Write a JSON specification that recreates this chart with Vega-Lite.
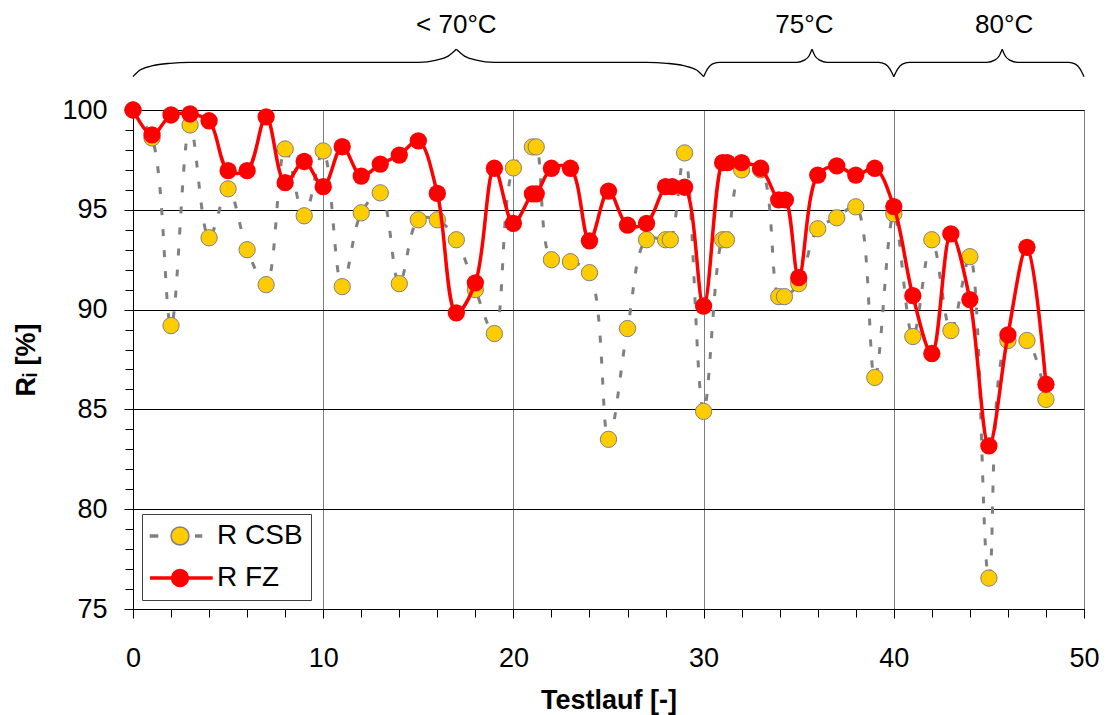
{
  "$schema": "https://vega.github.io/schema/vega-lite/v6.json",
  "width": 951,
  "height": 499,
  "autosize": "none",
  "padding": {"left": 133, "top": 110, "right": 24, "bottom": 106},
  "background": "white",
  "config": {
    "font": "Liberation Sans",
    "view": {"stroke": "black", "strokeWidth": 1},
    "axis": {"domainColor": "black", "tickColor": "black", "labelColor": "black", "titleColor": "black"}
  },
  "datasets": {
    "csb": [
      {"x": 0, "v": 100}, {"x": 1, "v": 98.6}, {"x": 2, "v": 89.2}, {"x": 3, "v": 99.25}, {"x": 4, "v": 93.6},
      {"x": 5, "v": 96.05}, {"x": 6, "v": 93.0}, {"x": 7, "v": 91.25}, {"x": 8, "v": 98.05}, {"x": 9, "v": 94.7},
      {"x": 10, "v": 97.95}, {"x": 11, "v": 91.15}, {"x": 12, "v": 94.85}, {"x": 13, "v": 95.85}, {"x": 14, "v": 91.3},
      {"x": 15, "v": 94.5}, {"x": 16, "v": 94.5}, {"x": 17, "v": 93.5}, {"x": 18, "v": 91.0}, {"x": 19, "v": 88.8},
      {"x": 20, "v": 97.1}, {"x": 21, "v": 98.15}, {"x": 21.2, "v": 98.15}, {"x": 22, "v": 92.5}, {"x": 23, "v": 92.4},
      {"x": 24, "v": 91.85}, {"x": 25, "v": 83.5}, {"x": 26, "v": 89.05}, {"x": 27, "v": 93.5}, {"x": 28, "v": 93.5},
      {"x": 28.25, "v": 93.5}, {"x": 29, "v": 97.85}, {"x": 30, "v": 84.9}, {"x": 31, "v": 93.5}, {"x": 31.2, "v": 93.5},
      {"x": 32, "v": 97.0}, {"x": 33, "v": 97.0}, {"x": 33.95, "v": 90.65}, {"x": 34.25, "v": 90.65}, {"x": 35, "v": 91.3},
      {"x": 36, "v": 94.05}, {"x": 37, "v": 94.6}, {"x": 38, "v": 95.15}, {"x": 39, "v": 86.6}, {"x": 40, "v": 94.8},
      {"x": 41, "v": 88.65}, {"x": 42, "v": 93.5}, {"x": 43, "v": 88.95}, {"x": 44, "v": 92.65}, {"x": 45, "v": 76.55},
      {"x": 46, "v": 88.45}, {"x": 47, "v": 88.45}, {"x": 48, "v": 85.5}
    ],
    "fz": [
      {"x": 0, "v": 100}, {"x": 1, "v": 98.75}, {"x": 2, "v": 99.75}, {"x": 3, "v": 99.8}, {"x": 4, "v": 99.46},
      {"x": 5, "v": 96.96}, {"x": 6, "v": 96.96}, {"x": 7, "v": 99.66}, {"x": 8, "v": 96.36}, {"x": 9, "v": 97.42},
      {"x": 10, "v": 96.16}, {"x": 11, "v": 98.16}, {"x": 12, "v": 96.69}, {"x": 13, "v": 97.29}, {"x": 14, "v": 97.74},
      {"x": 15, "v": 98.45}, {"x": 16, "v": 95.82}, {"x": 17, "v": 89.84}, {"x": 18, "v": 91.34}, {"x": 19, "v": 97.08},
      {"x": 20, "v": 94.32}, {"x": 21, "v": 95.8}, {"x": 21.2, "v": 95.8}, {"x": 22, "v": 97.08}, {"x": 23, "v": 97.08},
      {"x": 24, "v": 93.44}, {"x": 25, "v": 95.94}, {"x": 26, "v": 94.23}, {"x": 27, "v": 94.32}, {"x": 28, "v": 96.16},
      {"x": 28.35, "v": 96.16}, {"x": 29, "v": 96.13}, {"x": 30, "v": 90.18}, {"x": 31, "v": 97.36}, {"x": 31.25, "v": 97.36},
      {"x": 32, "v": 97.36}, {"x": 33, "v": 97.08}, {"x": 33.95, "v": 95.5}, {"x": 34.3, "v": 95.5}, {"x": 35, "v": 91.6},
      {"x": 36, "v": 96.74}, {"x": 37, "v": 97.2}, {"x": 38, "v": 96.74}, {"x": 39, "v": 97.08}, {"x": 40, "v": 95.16},
      {"x": 41, "v": 90.7}, {"x": 42, "v": 87.8}, {"x": 43, "v": 93.79}, {"x": 44, "v": 90.5}, {"x": 45, "v": 83.17},
      {"x": 46, "v": 88.73}, {"x": 47, "v": 93.12}, {"x": 48, "v": 86.26}
    ],
    "brace": [
      {"seg": "a1", "x": 0, "y": 101.67}, {"seg": "a1", "x": 0.37, "y": 102.0}, {"seg": "a1", "x": 1.05, "y": 102.22},
      {"seg": "a1", "x": 1.94, "y": 102.34}, {"seg": "a1", "x": 3, "y": 102.39}, {"seg": "a1", "x": 15, "y": 102.39},
      {"seg": "a1", "x": 15.96, "y": 102.5}, {"seg": "a1", "x": 16.57, "y": 102.7}, {"seg": "a1", "x": 17, "y": 103.04},
      {"seg": "a2", "x": 17, "y": 103.04}, {"seg": "a2", "x": 17.43, "y": 102.7}, {"seg": "a2", "x": 18.04, "y": 102.5},
      {"seg": "a2", "x": 19, "y": 102.39}, {"seg": "a2", "x": 27, "y": 102.39}, {"seg": "a2", "x": 28.06, "y": 102.34},
      {"seg": "a2", "x": 28.95, "y": 102.22}, {"seg": "a2", "x": 29.63, "y": 102.0}, {"seg": "a2", "x": 30, "y": 101.67},
      {"seg": "b1", "x": 30, "y": 101.67}, {"seg": "b1", "x": 30.2, "y": 102.05}, {"seg": "b1", "x": 30.45, "y": 102.3},
      {"seg": "b1", "x": 30.8, "y": 102.39}, {"seg": "b1", "x": 34.9, "y": 102.39}, {"seg": "b1", "x": 35.3, "y": 102.5},
      {"seg": "b1", "x": 35.55, "y": 102.72}, {"seg": "b1", "x": 35.7, "y": 103.04},
      {"seg": "b2", "x": 35.7, "y": 103.04}, {"seg": "b2", "x": 35.85, "y": 102.72}, {"seg": "b2", "x": 36.1, "y": 102.5},
      {"seg": "b2", "x": 36.5, "y": 102.39}, {"seg": "b2", "x": 39.2, "y": 102.39}, {"seg": "b2", "x": 39.55, "y": 102.3},
      {"seg": "b2", "x": 39.8, "y": 102.05}, {"seg": "b2", "x": 40, "y": 101.67},
      {"seg": "c1", "x": 40, "y": 101.67}, {"seg": "c1", "x": 40.2, "y": 102.05}, {"seg": "c1", "x": 40.45, "y": 102.3},
      {"seg": "c1", "x": 40.8, "y": 102.39}, {"seg": "c1", "x": 44.9, "y": 102.39}, {"seg": "c1", "x": 45.3, "y": 102.5},
      {"seg": "c1", "x": 45.55, "y": 102.72}, {"seg": "c1", "x": 45.7, "y": 103.04},
      {"seg": "c2", "x": 45.7, "y": 103.04}, {"seg": "c2", "x": 45.85, "y": 102.72}, {"seg": "c2", "x": 46.1, "y": 102.5},
      {"seg": "c2", "x": 46.5, "y": 102.39}, {"seg": "c2", "x": 49.2, "y": 102.39}, {"seg": "c2", "x": 49.55, "y": 102.3},
      {"seg": "c2", "x": 49.8, "y": 102.05}, {"seg": "c2", "x": 50, "y": 101.67}
    ],
    "labels": [
      {"x": 17, "y": 103.87, "t": "< 70°C"},
      {"x": 35.3, "y": 103.87, "t": "75°C"},
      {"x": 45.8, "y": 103.87, "t": "80°C"}
    ]
  },
  "layer": [
    {
      "data": {"name": "brace"},
      "mark": {"type": "line", "interpolate": "monotone", "color": "black", "strokeWidth": 1.3},
      "encoding": {
        "x": {"field": "x", "type": "quantitative", "scale": {"domain": [0, 50], "nice": false, "zero": false},
          "axis": {"orient": "bottom", "values": [2, 4, 6, 8, 12, 14, 16, 18, 22, 24, 26, 28, 32, 34, 36, 38, 42, 44, 46, 48],
            "labels": false, "domain": false, "grid": false, "ticks": true, "tickSize": 8, "title": null}},
        "y": {"field": "y", "type": "quantitative", "scale": {"domain": [75, 100], "nice": false, "zero": false},
          "axis": {"orient": "left", "values": [76, 77, 78, 79, 81, 82, 83, 84, 86, 87, 88, 89, 91, 92, 93, 94, 96, 97, 98, 99],
            "labels": false, "domain": false, "grid": false, "ticks": true, "tickSize": 8, "title": null}},
        "detail": {"field": "seg"}
      }
    },
    {
      "data": {"name": "csb"},
      "mark": {"type": "line", "interpolate": "catmull-rom", "color": "#808080", "strokeWidth": 3, "strokeDash": [7, 14]},
      "encoding": {
        "x": {"field": "x", "type": "quantitative",
          "axis": {"orient": "bottom", "values": [0, 10, 20, 30, 40, 50], "grid": true, "gridColor": "#808080", "gridWidth": 1,
            "tickSize": 9, "labelFontSize": 27, "labelPadding": 27, "labelFlush": false, "labelOverlap": false,
            "title": "Testlauf [-]", "titleFontSize": 27, "titleFontWeight": "bold", "titlePadding": 16}},
        "y": {"field": "v", "type": "quantitative",
          "axis": {"orient": "left", "values": [75, 80, 85, 90, 95, 100], "grid": true, "gridColor": "black", "gridWidth": 1,
            "tickSize": 9, "labelFontSize": 27, "labelPadding": 17, "labelFlush": false, "labelOverlap": false,
            "title": "Rᵢ [%]", "titleFontSize": 27, "titleFontWeight": "bold", "titlePadding": 21}}
      }
    },
    {
      "data": {"name": "csb"},
      "mark": {"type": "point", "filled": true, "opacity": 1, "size": 266,
        "shape": {"expr": "isValid(datum.v) ? 'circle' : (datum.value === 'R CSB' ? 'M-2.886,-0.1L-2.067,-0.1M-2.886,0L-2.067,0M-2.886,0.1L-2.067,0.1M1.43,-0.1L2.12,-0.1M1.43,0L2.12,0M1.43,0.1L2.12,0.1M0.857,0A0.857,0.857,0,1,1,-0.857,0A0.857,0.857,0,1,1,0.857,0Z' : 'M-2.857,-0.1L3.114,-0.1M-2.857,0L3.114,0M-2.857,0.1L3.114,0.1M-2.857,0.05L3.114,0.05M-2.857,-0.05L3.114,-0.05M0.8,0A0.8,0.8,0,1,1,-0.8,0A0.8,0.8,0,1,1,0.8,0Z')"},
        "stroke": {"expr": "isValid(datum.v) ? '#808080' : (datum.value === 'R CSB' ? '#808080' : '#FF0000')"},
        "strokeWidth": {"expr": "isValid(datum.v) ? 1 : (datum.value === 'R CSB' ? 1 : 3)"}},
      "encoding": {
        "x": {"field": "x", "type": "quantitative", "axis": null},
        "y": {"field": "v", "type": "quantitative", "axis": null},
        "color": {"datum": "R CSB", "type": "nominal",
          "scale": {"domain": ["R CSB", "R FZ"], "range": ["#FFCC00", "#FF0000"]},
          "legend": {"title": null, "orient": "bottom-left", "offset": 9, "fillColor": "white", "strokeColor": "#404040",
            "padding": 8, "labelFontSize": 28, "labelColor": "black", "symbolSize": 441, "symbolOffset": 16,
            "labelOffset": 23, "rowPadding": 14, "symbolOpacity": 1}
        }
      }
    },
    {
      "data": {"name": "fz"},
      "mark": {"type": "line", "interpolate": "catmull-rom", "color": "#FF0000", "strokeWidth": 3.5},
      "encoding": {
        "x": {"field": "x", "type": "quantitative", "axis": null},
        "y": {"field": "v", "type": "quantitative", "axis": null}
      }
    },
    {
      "data": {"name": "fz"},
      "mark": {"type": "point", "filled": true, "opacity": 1, "size": 300,
        "shape": {"expr": "isValid(datum.v) ? 'circle' : (datum.value === 'R CSB' ? 'M-2.886,-0.1L-2.067,-0.1M-2.886,0L-2.067,0M-2.886,0.1L-2.067,0.1M1.43,-0.1L2.12,-0.1M1.43,0L2.12,0M1.43,0.1L2.12,0.1M0.857,0A0.857,0.857,0,1,1,-0.857,0A0.857,0.857,0,1,1,0.857,0Z' : 'M-2.857,-0.1L3.114,-0.1M-2.857,0L3.114,0M-2.857,0.1L3.114,0.1M-2.857,0.05L3.114,0.05M-2.857,-0.05L3.114,-0.05M0.8,0A0.8,0.8,0,1,1,-0.8,0A0.8,0.8,0,1,1,0.8,0Z')"},
        "stroke": {"expr": "isValid(datum.v) ? '#FF0000' : (datum.value === 'R CSB' ? '#808080' : '#FF0000')"},
        "strokeWidth": {"expr": "isValid(datum.v) ? 0 : (datum.value === 'R CSB' ? 1 : 3)"}},
      "encoding": {
        "x": {"field": "x", "type": "quantitative", "axis": null},
        "y": {"field": "v", "type": "quantitative", "axis": null},
        "color": {"datum": "R FZ", "type": "nominal"}
      }
    },
    {
      "data": {"name": "labels"},
      "mark": {"type": "text", "fontSize": 26, "align": "center", "baseline": "alphabetic", "color": "black"},
      "encoding": {
        "x": {"field": "x", "type": "quantitative", "axis": null},
        "y": {"field": "y", "type": "quantitative", "axis": null},
        "text": {"field": "t"}
      }
    }
  ],
  "resolve": {"axis": {"x": "independent", "y": "independent"}}
}
